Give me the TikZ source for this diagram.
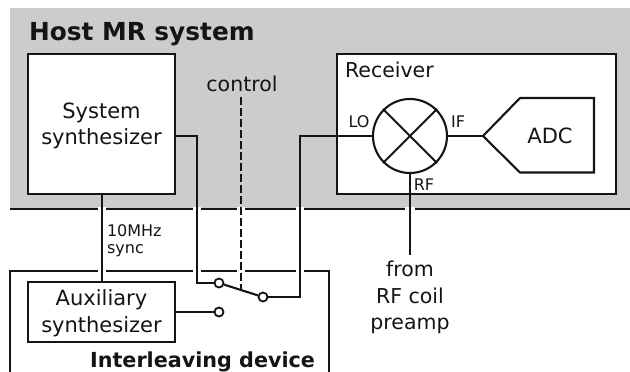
\documentclass[tikz,border=0pt]{standalone}
\usepackage{fontspec}
\setmainfont{DejaVu Sans}
\usetikzlibrary{positioning}
\definecolor{hostgray}{RGB}{204,204,204}
\definecolor{inkblack}{RGB}{20,20,20}

\begin{document}
\begin{tikzpicture}[x=1pt,y=-1pt,line width=2.1pt,draw=inkblack,text=inkblack,
                       main box/.style={rectangle,draw,fill=white,inner sep=0pt,align=center,
                                        font=\fontsize{21}{26.5}\selectfont},
                       small label/.style={inner sep=0pt,font=\fontsize{16}{17}\selectfont},
                       big label/.style={inner sep=0pt,font=\fontsize{20.5}{26.5}\selectfont},
                       contact/.style={circle,draw,fill=white,line width=1.8pt,inner sep=0pt,minimum size=9pt}
                      ]
   \useasboundingbox (0,0) rectangle (630,372);
   \fill[hostgray] (10,8) rectangle (630,209);
   \node[inner sep=0pt,anchor=base west,font=\bfseries\fontsize{24.8}{29}\selectfont] (host) at (28,40) {Host MR system};
   % borders
   \coordinate (hostl) at (10,209);
   \coordinate (hostr) at (630,209);
   \coordinate (devbl) at (10,372);
   \coordinate (devtl) at (10,271);
   \coordinate (devtr) at (329,271);
   \coordinate (devbr) at (329,372);
   \draw (hostl) -- (hostr);
   \draw (devbl) -- (devtl) -- (devtr) -- (devbr);
   \foreach \x in {102,197,241,300} {
     \draw[white,line width=3.5pt] (\x-4,209) -- (\x+4,209);
     \draw[white,line width=3.5pt] (\x-4,271) -- (\x+4,271);
   }
   \draw[white,line width=3.5pt] (405,209) -- (415,209);
   % boxes
   \node[main box,minimum width=147pt,minimum height=140pt] (sys) at (101.5,124) {};
   \node[main box,minimum width=147pt,minimum height=60pt] (aux) at (101.5,312) {};
   \node[main box,draw=none,fill=none] (systext) at (101.5,126) {System\\synthesizer};
   \node[main box,draw=none,fill=none] (auxtext) at (101.5,313) {Auxiliary\\synthesizer};
   \node[main box,minimum width=279pt,minimum height=140pt] (rec) at (476.5,124) {};
   \node[big label,anchor=base west] (reclabel) at (344,77) {Receiver};
   % mixer
   \node[circle,draw,fill=white,inner sep=0pt,minimum size=74pt] (mixer) at (410,136) {};
   \draw (mixer.45) -- (mixer.225);
   \draw (mixer.135) -- (mixer.315);
   \node[small label] (lo) at (359,122) {LO};
   \node[small label] (if) at (458,122) {IF};
   \node[small label] (rf) at (424,185) {RF};
   % ADC
   \coordinate (adctip) at (483,136);
   \draw (adctip) -- (520,98) -- (594,98) -- (594,172.5) -- (520,172.5) -- cycle;
   \node[inner sep=0pt,font=\fontsize{21}{26}\selectfont] (adc) at (550,136) {ADC};
   % switch
   \node[contact] (swa) at (219,283) {};
   \node[contact] (swb) at (219,312) {};
   \node[contact] (swc) at (263,297) {};
   \coordinate (ctrl) at (241,97);
   \coordinate (ctrlend) at (241,290);
   \coordinate (rfin) at (410,255);
   \draw[dashed,dash pattern=on 8pt off 3pt] (ctrl) -- (ctrlend);
   \path (sys.east |- 0,136) coordinate (sysout);
   \path
    (sys.south -| 102,0) edge (aux.north -| 102,0)
    (aux.east |- swb) edge (swb)
    (swa) edge (swc)
    (mixer.south) edge (rfin)
    (mixer.east) edge (adctip);
   \draw (sysout) -| (197,283) -- (swa);
   \draw (mixer.west) -- (300,136) |- (swc);
   % labels
   \node[big label] (control) at (242,84) {control};
   \node[small label,align=left,anchor=north west] (sync) at (106,224) {10MHz\\sync};
   \node[big label,align=center,anchor=north] (from) at (410,260) {from\\RF coil\\preamp};
   \node[inner sep=0pt,anchor=base east,font=\bfseries\fontsize{20.7}{24}\selectfont] (dev) at (316,367) {Interleaving device};
  \end{tikzpicture}
\end{document}
